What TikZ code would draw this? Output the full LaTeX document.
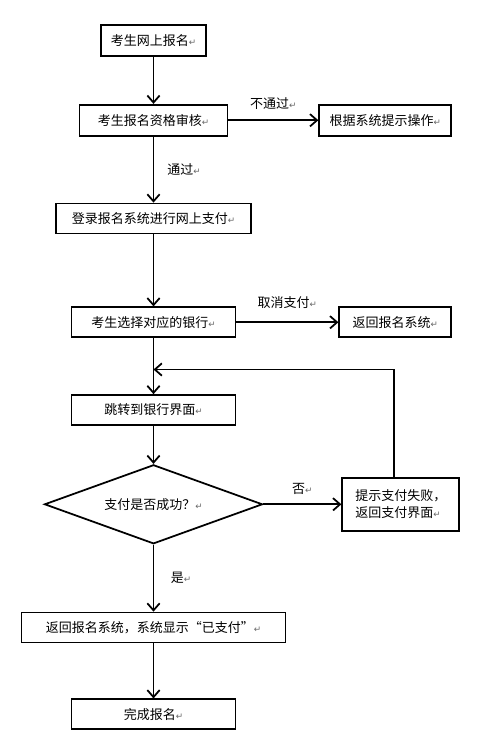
\documentclass[tikz,border=0pt]{standalone}
\usepackage{fontspec}
\setmainfont{Noto Sans CJK SC}
\newfontfamily\markfont{DejaVu Sans}
\usetikzlibrary{shapes.geometric,arrows.meta,positioning,calc}
\newcommand{\pmark}{{\markfont\fontsize{5}{5}\selectfont\color{black!60}↵}}
\tikzset{
  step box/.style={
    draw,
    rectangle,
    line width=1pt,
    inner sep=0pt,
    minimum height=0.6cm,
    align=center,
    font=\fontsize{7.4}{10}\selectfont,
  },
  check/.style={
    draw,
    diamond,
    aspect=2.76,
    line width=1pt,
    inner sep=0pt,
    minimum width=4.36cm,
    minimum height=1.58cm,
    font=\fontsize{7.4}{10}\selectfont,
  },
  flow/.style={
    draw=black,
    line width=1pt,
    ->,
    >={Straight Barb[length=4pt,width=7pt,line width=1pt]}
  },
  tag/.style={
    font=\fontsize{7.4}{10}\selectfont,
  }
}
\begin{document}
\begin{tikzpicture}
    \useasboundingbox (0,0) rectangle (10,-14.76);

    \node [step box, minimum width=2.10cm, minimum height=0.62cm] (signup) at (3.07,-0.81) {考生网上报名\pmark};

    \node [step box, minimum width=2.96cm, minimum height=0.62cm, below=0.94cm of signup] (review) {考生报名资格审核\pmark};

    \node [step box, minimum width=2.64cm, minimum height=0.62cm, right=1.80cm of review] (hint) {根据系统提示操作\pmark};

    \node [step box, minimum width=3.90cm, below=1.32cm of review] (login) {登录报名系统进行网上支付\pmark};

    \node [step box, minimum width=3.28cm, below=1.44cm of login] (bank) {考生选择对应的银行\pmark};

    \node [step box, minimum width=2.24cm, right=2.04cm of bank] (back) {返回报名系统\pmark};

    \node [step box, minimum width=3.28cm, below=1.12cm of bank] (jump) {跳转到银行界面\pmark};

    \node [check, below=0.76cm of jump] (paid) {支付是否成功？\pmark};

    \node [step box, minimum width=2.34cm, minimum height=1.06cm, align=left, right=1.56cm of paid] (fail) {提示支付失败，\\返回支付界面\pmark};

    \node [step box, minimum width=5.28cm, below=1.34cm of paid] (done) {返回报名系统，系统显示“已支付”\pmark};

    \node [step box, minimum width=3.28cm, below=1.10cm of done] (finish) {完成报名\pmark};

    \coordinate (join) at ($(bank.south)!0.56!(jump.north)$);

    \draw [flow] (signup) -- (review);
    \draw [flow] (review) -- node [tag, above=2pt] {不通过\pmark} (hint);
    \draw [flow] (review) -- node [tag, right=4pt] {通过\pmark} (login);
    \draw [flow] (login) -- (bank);
    \draw [flow] (bank) -- node [tag, above=4pt] {取消支付\pmark} (back);
    \draw [flow] (bank) -- (jump);
    \draw [flow] (jump) -- (paid);
    \draw [flow] (paid) -- node [tag, above=2pt] {否\pmark} (fail);
    \draw [flow] ([xshift=-0.14cm]fail.north) |- (join);
    \draw [flow] (paid) -- node [tag, right=6pt] {是\pmark} (done);
    \draw [flow] (done) -- (finish);
  \end{tikzpicture}
\end{document}
